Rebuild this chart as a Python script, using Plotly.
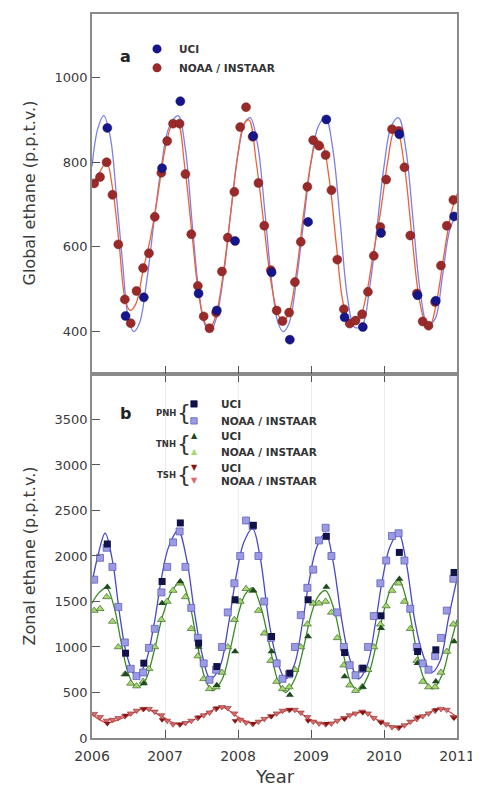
import plotly.graph_objects as go

# ---------------- data ----------------
UCI_T = [2006.21, 2006.46, 2006.71, 2006.96, 2007.21, 2007.46, 2007.71, 2007.96,
         2008.21, 2008.46, 2008.71, 2008.96, 2009.21, 2009.46, 2009.71, 2009.96,
         2010.21, 2010.46, 2010.71, 2010.96]
NOAA_T = [2006.03, 2006.11, 2006.20, 2006.28, 2006.36, 2006.45, 2006.53, 2006.61, 2006.70, 2006.78, 2006.86, 2006.95,
          2007.03, 2007.11, 2007.20, 2007.28, 2007.36, 2007.45, 2007.53, 2007.61, 2007.70, 2007.78, 2007.86, 2007.95,
          2008.03, 2008.11, 2008.20, 2008.28, 2008.36, 2008.45, 2008.53, 2008.61, 2008.70, 2008.78, 2008.86, 2008.95,
          2009.03, 2009.11, 2009.20, 2009.28, 2009.36, 2009.45, 2009.53, 2009.61, 2009.70, 2009.78, 2009.86, 2009.95,
          2010.03, 2010.11, 2010.20, 2010.28, 2010.36, 2010.45, 2010.53, 2010.61, 2010.70, 2010.78, 2010.86, 2010.95]

# panel a: global ethane
GLOBAL_UCI = [881, 437, 481, 786, 944, 490, 450, 614, 862, 540,
              381, 659, 901, 434, 411, 633, 866, 486, 473, 672]
GLOBAL_NOAA = [750, 765, 800, 723, 606, 476, 420, 496, 550, 585, 671, 775,
               850, 891, 891, 772, 630, 508, 436, 408, 445, 542, 622, 730,
               883, 930, 860, 751, 650, 545, 450, 425, 445, 517, 612, 742,
               852, 839, 817, 734, 570, 453, 419, 426, 441, 494, 579, 647,
               759, 878, 874, 788, 627, 490, 424, 414, 470, 556, 650, 711]
FIT_UCI_T = [2006.00, 2006.08, 2006.16, 2006.25, 2006.33, 2006.42, 2006.50, 2006.57, 2006.65, 2006.75, 2006.85, 2006.95,
             2007.05, 2007.18, 2007.28, 2007.37, 2007.46, 2007.55, 2007.62, 2007.70, 2007.80, 2007.90,
             2008.00, 2008.10, 2008.17, 2008.27, 2008.37, 2008.46, 2008.55, 2008.62, 2008.70, 2008.80, 2008.90,
             2009.00, 2009.10, 2009.20, 2009.30, 2009.40, 2009.50, 2009.60, 2009.70, 2009.80, 2009.90,
             2010.00, 2010.10, 2010.20, 2010.30, 2010.40, 2010.50, 2010.60, 2010.70, 2010.80, 2010.90, 2011.00]
FIT_UCI_V = [790, 880, 910, 860, 730, 560, 430, 400, 420, 520, 660, 790,
             880, 910, 830, 660, 500, 415, 400, 430, 530, 680,
             820, 895, 905, 840, 680, 520, 420, 400, 420, 520, 660,
             800, 885, 905, 830, 660, 480, 410, 415, 500, 640,
             790, 885, 905, 830, 660, 490, 415, 430, 530, 640, 680]
FIT_NOAA_T = [2006.00, 2006.10, 2006.20, 2006.28, 2006.37, 2006.45, 2006.52, 2006.60, 2006.70, 2006.80, 2006.90,
              2007.00, 2007.10, 2007.17, 2007.27, 2007.37, 2007.46, 2007.55, 2007.62, 2007.70, 2007.80, 2007.90,
              2008.00, 2008.08, 2008.15, 2008.25, 2008.35, 2008.45, 2008.55, 2008.62, 2008.70, 2008.80, 2008.90,
              2009.00, 2009.08, 2009.15, 2009.25, 2009.35, 2009.45, 2009.55, 2009.65, 2009.75, 2009.85, 2009.95,
              2010.05, 2010.13, 2010.18, 2010.28, 2010.38, 2010.48, 2010.57, 2010.63, 2010.72, 2010.82, 2010.92, 2011.00]
FIT_NOAA_V = [745, 775, 800, 740, 610, 480, 450, 465, 545, 620, 720,
              830, 890, 895, 790, 630, 490, 420, 410, 440, 540, 680,
              820, 890, 900, 800, 660, 520, 440, 425, 445, 540, 680,
              800, 850, 845, 760, 600, 460, 420, 425, 480, 580, 680,
              800, 870, 875, 790, 630, 480, 420, 415, 470, 580, 680, 725]

# panel b: zonal ethane
PNH_UCI = [2132, 932, 822, 1720, 2363, 1042, 785, 1519, 2337, 1115,
           712, 1519, 2216, 939, 767, 1343, 2039, 950, 969, 1819]
PNH_NOAA = [1740, 1980, 2090, 1880, 1440, 1050, 760, 680, 720, 990, 1200, 1600,
            1880, 2150, 2270, 1880, 1430, 1100, 820, 640, 750, 1000, 1380, 1700,
            2000, 2390, 2330, 2000, 1500, 1100, 820, 650, 700, 1000, 1350, 1650,
            1850, 2170, 2310, 2000, 1380, 1000, 800, 690, 760, 1000, 1340, 1700,
            1950, 2220, 2250, 1950, 1420, 1000, 820, 750, 900, 1100, 1400, 1750]
TNH_UCI = [1660, 700, 600, 1480, 1720, 1000, 580, 950, 1620, 950,
           473, 1115, 1658, 675, 560, 1207, 1746, 822, 620, 1060]
TNH_NOAA = [1400, 1420, 1550, 1280, 1000, 700, 600, 570, 620, 760, 1000, 1300,
            1500, 1620, 1700, 1550, 1200, 900, 650, 540, 560, 720, 1000, 1300,
            1500, 1640, 1620, 1400, 1150, 850, 620, 540, 560, 750, 1000, 1250,
            1480, 1480, 1500, 1380, 1100, 800, 580, 520, 560, 750, 1000, 1250,
            1450, 1620, 1700, 1500, 1200, 850, 620, 560, 560, 720, 950, 1250]
TSH_UCI = [160, 250, 320, 200, 150, 230, 330, 190, 160, 240,
           310, 190, 160, 210, 280, 170, 120, 230, 310, 220]
TSH_NOAA = [265, 230, 190, 200, 220, 240, 270, 300, 320, 320, 290, 250,
            190, 150, 150, 165, 190, 220, 250, 280, 320, 340, 330, 270,
            200, 170, 155, 180, 210, 240, 270, 300, 310, 310, 280, 230,
            180, 160, 150, 160, 190, 220, 250, 270, 290, 270, 220, 180,
            150, 120, 110, 140, 180, 210, 240, 270, 300, 320, 310, 230]

PNH_FIT_T = [2006.00, 2006.08, 2006.18, 2006.28, 2006.38, 2006.48, 2006.60, 2006.72, 2006.85, 2006.95,
             2007.05, 2007.18, 2007.30, 2007.40, 2007.50, 2007.62, 2007.75, 2007.87, 2007.98,
             2008.08, 2008.20, 2008.30, 2008.42, 2008.52, 2008.65, 2008.77, 2008.88, 2008.98,
             2009.08, 2009.20, 2009.30, 2009.42, 2009.52, 2009.65, 2009.77, 2009.88, 2009.98,
             2010.08, 2010.20, 2010.30, 2010.42, 2010.52, 2010.65, 2010.77, 2010.88, 2011.00]
PNH_FIT_V = [1700, 2000, 2250, 1950, 1350, 900, 680, 800, 1250, 1750,
             2100, 2280, 1950, 1400, 950, 650, 780, 1250, 1800,
             2150, 2300, 2000, 1300, 900, 650, 800, 1250, 1750,
             2100, 2250, 1950, 1300, 900, 650, 800, 1250, 1750,
             2100, 2250, 1950, 1300, 950, 720, 850, 1300, 1750]
TNH_FIT_T = [2006.00, 2006.10, 2006.20, 2006.30, 2006.40, 2006.50, 2006.60, 2006.72, 2006.85, 2006.97,
             2007.10, 2007.22, 2007.33, 2007.45, 2007.55, 2007.65, 2007.78, 2007.90,
             2008.00, 2008.10, 2008.20, 2008.32, 2008.45, 2008.55, 2008.65, 2008.78, 2008.90,
             2009.00, 2009.10, 2009.20, 2009.32, 2009.45, 2009.55, 2009.65, 2009.78, 2009.90,
             2010.00, 2010.10, 2010.20, 2010.32, 2010.45, 2010.55, 2010.67, 2010.80, 2010.90, 2011.00]
TNH_FIT_V = [1480, 1600, 1650, 1450, 1050, 700, 560, 620, 950, 1350,
             1620, 1720, 1500, 1000, 650, 520, 640, 1000,
             1350, 1580, 1650, 1420, 950, 620, 500, 650, 1000,
             1350, 1560, 1620, 1400, 900, 600, 520, 680, 1050,
             1400, 1650, 1740, 1480, 950, 650, 540, 700, 1000, 1300]
TSH_FIT_T = [2006.00, 2006.20, 2006.45, 2006.72, 2006.95, 2007.18, 2007.45, 2007.78, 2008.00, 2008.20,
             2008.45, 2008.75, 2009.00, 2009.20, 2009.45, 2009.72, 2009.95, 2010.20, 2010.45, 2010.78, 2011.00]
TSH_FIT_V = [260, 170, 230, 320, 240, 150, 220, 340, 230, 160,
             240, 310, 200, 150, 220, 285, 180, 115, 210, 320, 230]

YEAR_TICKS = [2006, 2007, 2008, 2009, 2010, 2011]
TOP_Y_TICKS = [400, 600, 800, 1000]
BOT_Y_TICKS = [0, 500, 1000, 1500, 2000, 2500, 3000, 3500]

# ---------------- figure ----------------
fig = go.Figure()

# panel a
fig.add_trace(go.Scatter(x=FIT_UCI_T, y=FIT_UCI_V, mode="lines", line=dict(color="#7c80ea", width=1.3, shape="spline", smoothing=1.0),
                         xaxis="x2", yaxis="y2", showlegend=False))
fig.add_trace(go.Scatter(x=FIT_NOAA_T, y=FIT_NOAA_V, mode="lines", line=dict(color="#ec6238", width=1.3, shape="spline", smoothing=1.0),
                         xaxis="x2", yaxis="y2", showlegend=False))
fig.add_trace(go.Scatter(x=NOAA_T, y=GLOBAL_NOAA, mode="markers",
                         marker=dict(symbol="circle", size=9, color="#9a2a2a", line=dict(color="#7a1e1e", width=0.5)),
                         xaxis="x2", yaxis="y2", showlegend=False))
fig.add_trace(go.Scatter(x=UCI_T, y=GLOBAL_UCI, mode="markers",
                         marker=dict(symbol="circle", size=9, color="#16168c", line=dict(color="#0e0e60", width=0.5)),
                         xaxis="x2", yaxis="y2", showlegend=False))

# panel b fits
fig.add_trace(go.Scatter(x=PNH_FIT_T, y=PNH_FIT_V, mode="lines", line=dict(color="#4848c8", width=1.3, shape="spline", smoothing=1.0),
                         showlegend=False))
fig.add_trace(go.Scatter(x=TNH_FIT_T, y=TNH_FIT_V, mode="lines", line=dict(color="#3a8a28", width=1.3, shape="spline", smoothing=1.0),
                         showlegend=False))
fig.add_trace(go.Scatter(x=TSH_FIT_T, y=TSH_FIT_V, mode="lines", line=dict(color="#e04848", width=1.3, shape="spline", smoothing=1.0),
                         showlegend=False))
# panel b points
fig.add_trace(go.Scatter(x=NOAA_T, y=TSH_NOAA, mode="markers",
                         marker=dict(symbol="triangle-down", size=6, color="#d86a6a", line=dict(color="#8a2a2a", width=0.6)), showlegend=False))
fig.add_trace(go.Scatter(x=UCI_T, y=TSH_UCI, mode="markers",
                         marker=dict(symbol="triangle-down", size=6, color="#8a1414"), showlegend=False))
fig.add_trace(go.Scatter(x=NOAA_T, y=TNH_NOAA, mode="markers",
                         marker=dict(symbol="triangle-up", size=7, color="#a8d870", line=dict(color="#3c6a28", width=0.7)), showlegend=False))
fig.add_trace(go.Scatter(x=UCI_T, y=TNH_UCI, mode="markers",
                         marker=dict(symbol="triangle-up", size=7, color="#1e4a1e"), showlegend=False))
fig.add_trace(go.Scatter(x=NOAA_T, y=PNH_NOAA, mode="markers",
                         marker=dict(symbol="square", size=7, color="#9a9ae6", line=dict(color="#5656b0", width=0.7)), showlegend=False))
fig.add_trace(go.Scatter(x=UCI_T, y=PNH_UCI, mode="markers",
                         marker=dict(symbol="square", size=7, color="#12124a"), showlegend=False))

axis_font = dict(family="DejaVu Sans", size=13, color="#3a3a3a")
common_axis = dict(showline=True, linecolor="#8a8a8a", linewidth=1.5, ticks="inside", ticklen=8,
                   tickcolor="#555555", tickwidth=1.2, zeroline=False, tickfont=axis_font)

# page body has an 8px margin: plot area on screen spans x 92..457, y 12..738
fig.update_layout(
    width=480, height=788,
    margin=dict(l=84, r=31, t=4, b=58),
    paper_bgcolor="white", plot_bgcolor="white",
    showlegend=False,
    xaxis=dict(domain=[0, 1], anchor="y", range=[2006, 2011], tickvals=YEAR_TICKS,
               showgrid=True, gridcolor="#ececec", gridwidth=1, mirror="ticks",
               ticklabelstandoff=4,
               tickfont=dict(family="DejaVu Sans", size=14, color="#3a3a3a"),
               **{k: v for k, v in common_axis.items() if k != "tickfont"}),
    yaxis=dict(domain=[0, 0.5028], anchor="x", range=[0, 4000], tickvals=BOT_Y_TICKS,
               showgrid=False, mirror=True, **common_axis),
    xaxis2=dict(domain=[0, 1], anchor="y2", range=[2006, 2011], tickvals=YEAR_TICKS,
                showticklabels=False, showgrid=False, mirror=True, **common_axis),
    yaxis2=dict(domain=[0.5028, 1], anchor="x2", range=[300, 1150], tickvals=TOP_Y_TICKS,
                showgrid=False, mirror=True, **common_axis),
)

def xp(px):
    return (px - 92) / 365.0

def yp(py):
    return (738 - py) / 726.0

ann = []
# axis titles
ann.append(dict(text="Global ethane (p.p.t.v.)", x=xp(30), y=yp(192), textangle=-90,
                font=dict(family="DejaVu Sans", size=16, color="#3a3a3a")))
ann.append(dict(text="Zonal ethane (p.p.t.v.)", x=xp(30), y=yp(556), textangle=-90,
                font=dict(family="DejaVu Sans", size=16, color="#3a3a3a")))
ann.append(dict(text="Year", x=xp(274.5), y=yp(777),
                font=dict(family="DejaVu Sans", size=18, color="#3a3a3a")))
# panel labels
ann.append(dict(text="<b>a</b>", x=xp(125), y=yp(55), font=dict(family="DejaVu Sans", size=16, color="#222222")))
ann.append(dict(text="<b>b</b>", x=xp(125), y=yp(413), font=dict(family="DejaVu Sans", size=16, color="#222222")))

leg_font = dict(family="DejaVu Sans", size=10.5, color="#333333")
small_font = dict(family="DejaVu Sans", size=8.5, color="#333333")
# panel a legend text
ann.append(dict(text="<b>UCI</b>", x=xp(177), y=yp(47), xanchor="left", font=leg_font))
ann.append(dict(text="<b>NOAA / INSTAAR</b>", x=xp(177), y=yp(66), xanchor="left", font=leg_font))

# panel b legend
groups = [("PNH", 412, 403, 420), ("TNH", 443, 435, 451), ("TSH", 474, 467, 480)]
for name, gy, uy, ny in groups:
    ann.append(dict(text="<b>%s</b>" % name, x=xp(178), y=yp(gy), xanchor="right", font=small_font))
    ann.append(dict(text="{", x=xp(184), y=yp(gy), font=dict(family="DejaVu Sans", size=22, color="#333333")))
    ann.append(dict(text="<b>UCI</b>", x=xp(219), y=yp(uy), xanchor="left", font=leg_font))
    ann.append(dict(text="<b>NOAA / INSTAAR</b>", x=xp(219), y=yp(ny), xanchor="left", font=leg_font))
# triangle glyphs for TNH/TSH legend
ann.append(dict(text="▲", x=xp(194), y=yp(435), font=dict(family="DejaVu Sans", size=8, color="#1e4a1e")))
ann.append(dict(text="▲", x=xp(194), y=yp(451), font=dict(family="DejaVu Sans", size=8, color="#a8d870")))
ann.append(dict(text="▼", x=xp(194), y=yp(467), font=dict(family="DejaVu Sans", size=8, color="#8a1414")))
ann.append(dict(text="▼", x=xp(194), y=yp(480), font=dict(family="DejaVu Sans", size=8, color="#d86a6a")))

for a in ann:
    a.setdefault("xref", "paper")
    a.setdefault("yref", "paper")
    a.setdefault("showarrow", False)
    a.setdefault("xanchor", "center")
    a.setdefault("yanchor", "middle")
fig.update_layout(annotations=ann)

shapes = []
def circ(cx, cy, r, color):
    return dict(type="circle", xref="paper", yref="paper", x0=xp(cx - r), x1=xp(cx + r),
                y0=yp(cy + r), y1=yp(cy - r), fillcolor=color, line=dict(width=0))
def sq(cx, cy, r, color, lc):
    return dict(type="rect", xref="paper", yref="paper", x0=xp(cx - r), x1=xp(cx + r),
                y0=yp(cy + r), y1=yp(cy - r), fillcolor=color, line=dict(width=0.7, color=lc))
shapes.append(circ(157, 47, 4.5, "#16168c"))
shapes.append(circ(157, 66, 4.5, "#9a2a2a"))
shapes.append(sq(194, 403, 3.2, "#12124a", "#12124a"))
shapes.append(sq(194, 420, 3.2, "#9a9ae6", "#5656b0"))
fig.update_layout(shapes=shapes)

fig.write_html("out.html")
